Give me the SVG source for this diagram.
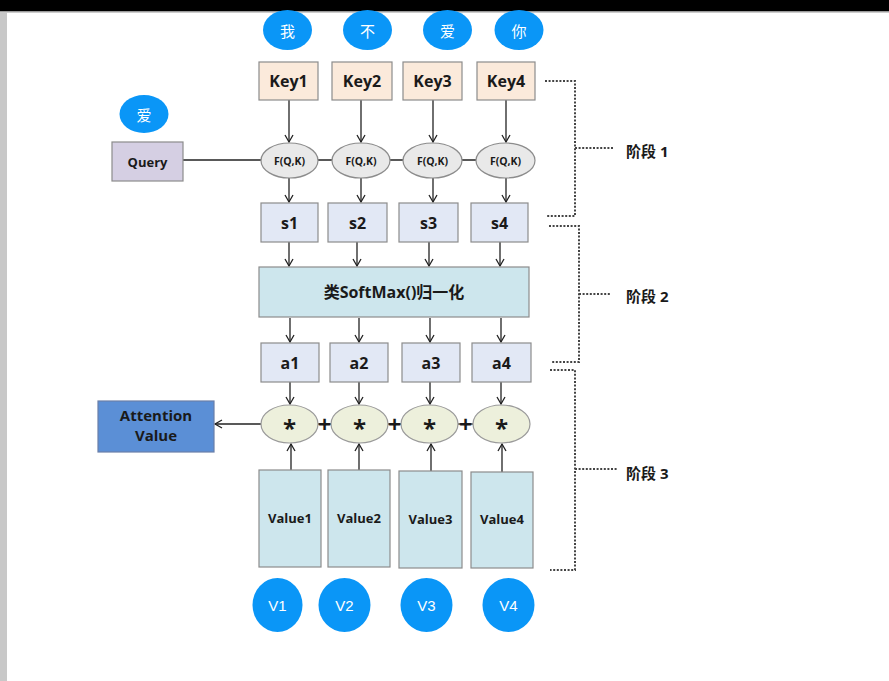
<svg xmlns="http://www.w3.org/2000/svg" width="889" height="681" viewBox="0 0 889 681">
<defs>
<marker id="arr" markerWidth="10" markerHeight="10" refX="8" refY="5" orient="auto" markerUnits="userSpaceOnUse">
<path d="M1,1 L8,5 L1,9" fill="none" stroke="#222" stroke-width="1.3"/>
</marker>
<style>
.ln{stroke:#222;stroke-width:1.3;fill:none}
.dot{stroke:#444;stroke-width:2;stroke-dasharray:2 1.6;fill:none}
.blue{fill:#0a96f7}
.ct{font-family:"Noto Sans CJK SC",sans-serif;font-size:15px;fill:#fff;text-anchor:middle;dominant-baseline:central}
.vt{font-family:"Liberation Sans",Arial,sans-serif;font-size:15px;fill:#fff;text-anchor:middle;dominant-baseline:central}
.box{stroke:#8c8c8c;stroke-width:1.2}
.t{font-family:"Open Sans","Noto Sans CJK SC",sans-serif;font-weight:bold;fill:#1a1a1a;text-anchor:middle;dominant-baseline:central}
.key{fill:#fbeadb}
.s{fill:#e2e8f5}
.cy{fill:#cde6ed}
.el{fill:#e9e9e9;stroke:#8c8c8c;stroke-width:1.2}
.st{fill:#edf0dc;stroke:#9a9a9a;stroke-width:1.2}
</style>
</defs>
<rect width="889" height="681" fill="#fff"/>
<rect x="0" y="0" width="889" height="11" fill="#000"/>
<rect x="0" y="11" width="889" height="1.5" fill="#9a9a9a"/>
<rect x="0" y="12" width="7" height="669" fill="#c8c8c8"/>

<g id="connectors">
<line class="ln" x1="183" y1="160" x2="476" y2="160"/>
<line class="ln" x1="289" y1="100" x2="289" y2="142" marker-end="url(#arr)"/>
<line class="ln" x1="361" y1="100" x2="361" y2="142" marker-end="url(#arr)"/>
<line class="ln" x1="433" y1="100" x2="433" y2="142" marker-end="url(#arr)"/>
<line class="ln" x1="506" y1="100" x2="506" y2="142" marker-end="url(#arr)"/>
<line class="ln" x1="289" y1="178" x2="289" y2="202" marker-end="url(#arr)"/>
<line class="ln" x1="361" y1="178" x2="361" y2="202" marker-end="url(#arr)"/>
<line class="ln" x1="433" y1="178" x2="433" y2="202" marker-end="url(#arr)"/>
<line class="ln" x1="506" y1="178" x2="506" y2="202" marker-end="url(#arr)"/>
<line class="ln" x1="289" y1="242" x2="289" y2="266" marker-end="url(#arr)"/>
<line class="ln" x1="357" y1="242" x2="357" y2="266" marker-end="url(#arr)"/>
<line class="ln" x1="429" y1="242" x2="429" y2="266" marker-end="url(#arr)"/>
<line class="ln" x1="500" y1="242" x2="500" y2="266" marker-end="url(#arr)"/>
<line class="ln" x1="290" y1="318" x2="290" y2="342" marker-end="url(#arr)"/>
<line class="ln" x1="359" y1="318" x2="359" y2="342" marker-end="url(#arr)"/>
<line class="ln" x1="430" y1="318" x2="430" y2="342" marker-end="url(#arr)"/>
<line class="ln" x1="501" y1="318" x2="501" y2="342" marker-end="url(#arr)"/>
<line class="ln" x1="290" y1="382" x2="290" y2="404" marker-end="url(#arr)"/>
<line class="ln" x1="359" y1="382" x2="359" y2="404" marker-end="url(#arr)"/>
<line class="ln" x1="430" y1="382" x2="430" y2="404" marker-end="url(#arr)"/>
<line class="ln" x1="501" y1="382" x2="501" y2="404" marker-end="url(#arr)"/>
<line class="ln" x1="291" y1="470" x2="291" y2="444" marker-end="url(#arr)"/>
<line class="ln" x1="359" y1="470" x2="359" y2="444" marker-end="url(#arr)"/>
<line class="ln" x1="431" y1="471" x2="431" y2="444" marker-end="url(#arr)"/>
<line class="ln" x1="502" y1="472" x2="502" y2="444" marker-end="url(#arr)"/>
<line class="ln" x1="261" y1="424" x2="215" y2="424" marker-end="url(#arr)"/>
<line class="ln" x1="318" y1="424" x2="331" y2="424"/>
<line class="ln" x1="388" y1="424" x2="401" y2="424"/>
<line class="ln" x1="458" y1="424" x2="473" y2="424"/>
<path class="dot" d="M545,81 H575 V216 H547 M575,148 H613"/>
<path class="dot" d="M549,226 H579 V362 H551 M579,294 H610"/>
<path class="dot" d="M550,370 H575 V570 H550 M575,469 H618"/>
</g>

<g id="tok1"><ellipse class="blue" cx="287.5" cy="30" rx="24.5" ry="20"/><text class="ct" x="287.5" y="30">我</text></g>
<g id="tok2"><ellipse class="blue" cx="367.5" cy="30" rx="24.5" ry="20"/><text class="ct" x="367.5" y="30">不</text></g>
<g id="tok3"><ellipse class="blue" cx="447.5" cy="30" rx="24.5" ry="20"/><text class="ct" x="447.5" y="30">爱</text></g>
<g id="tok4"><ellipse class="blue" cx="519" cy="30" rx="24.5" ry="20"/><text class="ct" x="519" y="30">你</text></g>
<g id="qtok"><ellipse class="blue" cx="144" cy="114" rx="24.5" ry="19"/><text class="ct" x="144" y="114">爱</text></g>

<g id="key1"><rect class="box key" x="259" y="62" width="59" height="38"/><text class="t" x="288.5" y="81" font-size="16">Key1</text></g>
<g id="key2"><rect class="box key" x="332" y="62" width="60" height="38"/><text class="t" x="362" y="81" font-size="16">Key2</text></g>
<g id="key3"><rect class="box key" x="403" y="62" width="59" height="38"/><text class="t" x="432.5" y="81" font-size="16">Key3</text></g>
<g id="key4"><rect class="box key" x="477" y="62" width="58" height="38"/><text class="t" x="506" y="81" font-size="16">Key4</text></g>

<g id="query"><rect class="box" fill="#d5cfe3" x="112" y="142" width="71" height="39"/><text class="t" x="147.5" y="161.5" font-size="13">Query</text></g>

<g id="f1"><ellipse class="el" cx="289.5" cy="160.5" rx="28.5" ry="17.5"/><text class="t" x="289.5" y="160.5" font-size="10.5">F(Q,K)</text></g>
<g id="f2"><ellipse class="el" cx="361" cy="160.5" rx="29" ry="17.5"/><text class="t" x="361" y="160.5" font-size="10.5">F(Q,K)</text></g>
<g id="f3"><ellipse class="el" cx="432.5" cy="160.5" rx="29.5" ry="17.5"/><text class="t" x="432.5" y="160.5" font-size="10.5">F(Q,K)</text></g>
<g id="f4"><ellipse class="el" cx="505.5" cy="160.5" rx="29.5" ry="17.5"/><text class="t" x="505.5" y="160.5" font-size="10.5">F(Q,K)</text></g>

<g id="s1"><rect class="box s" x="261" y="203" width="57" height="39"/><text class="t" x="289.5" y="222.5" font-size="16">s1</text></g>
<g id="s2"><rect class="box s" x="328" y="203" width="59" height="39"/><text class="t" x="357.5" y="222.5" font-size="16">s2</text></g>
<g id="s3"><rect class="box s" x="399" y="203" width="59" height="39"/><text class="t" x="428.5" y="222.5" font-size="16">s3</text></g>
<g id="s4"><rect class="box s" x="471" y="203" width="57" height="39"/><text class="t" x="499.5" y="222.5" font-size="16">s4</text></g>

<g id="softmax"><rect class="box cy" x="259" y="267" width="270" height="50"/><text class="t" x="394" y="292" font-size="16">类SoftMax()归一化</text></g>

<g id="a1"><rect class="box s" x="261" y="343" width="58" height="39"/><text class="t" x="290" y="362.5" font-size="16">a1</text></g>
<g id="a2"><rect class="box s" x="330" y="343" width="58" height="39"/><text class="t" x="359" y="362.5" font-size="16">a2</text></g>
<g id="a3"><rect class="box s" x="402" y="343" width="58" height="39"/><text class="t" x="431" y="362.5" font-size="16">a3</text></g>
<g id="a4"><rect class="box s" x="472" y="343" width="59" height="39"/><text class="t" x="501.5" y="362.5" font-size="16">a4</text></g>

<g id="m1"><ellipse class="st" cx="289.5" cy="424" rx="28.5" ry="19"/><text class="t" x="289.5" y="427" font-size="24" fill="#333">*</text></g>
<g id="m2"><ellipse class="st" cx="359.5" cy="424" rx="28.5" ry="19"/><text class="t" x="359.5" y="427" font-size="24" fill="#333">*</text></g>
<g id="m3"><ellipse class="st" cx="429.5" cy="424" rx="28.5" ry="19"/><text class="t" x="429.5" y="427" font-size="24" fill="#333">*</text></g>
<g id="m4"><ellipse class="st" cx="501.5" cy="424" rx="28.5" ry="19"/><text class="t" x="501.5" y="427" font-size="24" fill="#333">*</text></g>
<g id="plus">
<text class="t" x="324.5" y="424" font-size="23">+</text>
<text class="t" x="394.5" y="424" font-size="23">+</text>
<text class="t" x="465.5" y="424" font-size="23">+</text>
</g>

<g id="attn"><rect x="98" y="401" width="116" height="51" fill="#5b8fd6" stroke="#6a7fa8" stroke-width="1.2"/><text class="t" x="156" y="415" font-size="15" fill="#16203a">Attention</text><text class="t" x="156" y="435" font-size="15" fill="#16203a">Value</text></g>

<g id="v1"><rect class="box cy" x="259" y="470" width="62" height="97"/><text class="t" x="290" y="518" font-size="13">Value1</text></g>
<g id="v2"><rect class="box cy" x="328" y="470" width="62" height="97"/><text class="t" x="359" y="518" font-size="13">Value2</text></g>
<g id="v3"><rect class="box cy" x="399" y="471" width="63" height="97"/><text class="t" x="430.5" y="519" font-size="13">Value3</text></g>
<g id="v4"><rect class="box cy" x="471" y="472" width="62" height="96"/><text class="t" x="502" y="519" font-size="13">Value4</text></g>

<g id="vc1"><ellipse class="blue" cx="277.5" cy="605" rx="25" ry="27"/><text class="vt" x="277.5" y="605">V1</text></g>
<g id="vc2"><ellipse class="blue" cx="344.5" cy="605" rx="26" ry="27"/><text class="vt" x="344.5" y="605">V2</text></g>
<g id="vc3"><ellipse class="blue" cx="426.5" cy="605" rx="26" ry="27"/><text class="vt" x="426.5" y="605">V3</text></g>
<g id="vc4"><ellipse class="blue" cx="508.5" cy="605" rx="26" ry="27"/><text class="vt" x="508.5" y="605">V4</text></g>

<g id="stage1"><text class="t" x="626" y="151" font-size="15" style="text-anchor:start">阶段 1</text></g>
<g id="stage2"><text class="t" x="626" y="296" font-size="15" style="text-anchor:start">阶段 2</text></g>
<g id="stage3"><text class="t" x="626" y="473" font-size="15" style="text-anchor:start">阶段 3</text></g>
</svg>
